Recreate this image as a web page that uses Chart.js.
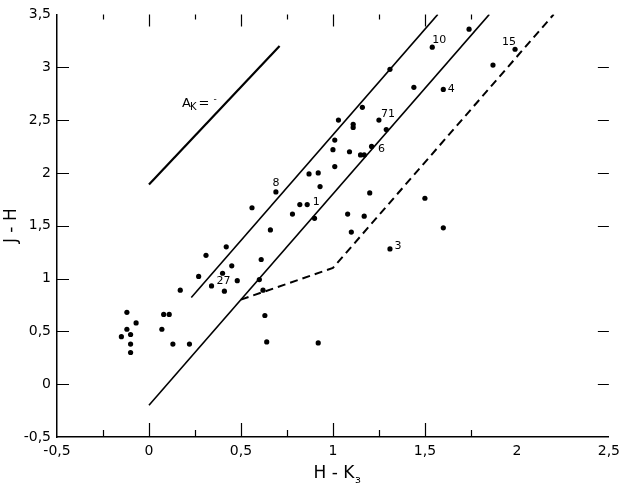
<!DOCTYPE html>
<html>
<head>
<meta charset="utf-8">
<script src="https://cdn.jsdelivr.net/npm/chart.js@4.4.0/dist/chart.umd.min.js"></script>
<style>
  html, body { margin: 0; padding: 0; background: #fff; }
  #wrap { width: 626px; height: 487px; }
</style>
</head>
<body>
<div id="wrap"><canvas id="colourChart"></canvas></div>
<script>
// stars: H-K and J-H
const starX = [-0.15, -0.12, -0.12, -0.10, -0.07, -0.10, -0.10, 0.07, 0.08, 0.11,
  0.13, 0.17, 0.22, 0.27, 0.31, 0.34, 0.40, 0.42, 0.41, 0.45,
  0.48, 0.61, 0.60, 0.62, 0.63, 0.64, 0.92, 0.56, 0.69, 0.66,
  0.87, 0.92, 1.01, 0.93, 0.82, 0.86, 0.78, 0.90, 1.20, 1.08,
  1.17, 1.10, 1.74, 1.54, 1.99, 1.87, 1.31, 1.44, 1.60, 1.16,
  1.03, 1.11, 1.11, 1.25, 1.29, 1.01, 1.00, 1.09, 1.21, 1.15,
  1.17, 1.50, 1.60, 1.31];
const starY = [0.45, 0.68, 0.52, 0.47, 0.58, 0.38, 0.30, 0.52, 0.66, 0.66,
  0.38, 0.89, 0.38, 1.02, 1.22, 0.93, 1.05, 1.30, 0.88, 1.12,
  0.98, 1.18, 0.99, 0.89, 0.65, 0.40, 0.39, 1.67, 1.82, 1.46,
  1.99, 2.00, 2.06, 1.87, 1.70, 1.70, 1.61, 1.57, 1.81, 1.61,
  1.59, 1.44, 3.36, 3.19, 3.17, 3.02, 2.98, 2.81, 2.79, 2.62,
  2.50, 2.46, 2.43, 2.50, 2.41, 2.31, 2.22, 2.20, 2.25, 2.17,
  2.17, 1.76, 1.48, 1.28];

// numbered stars
const noteText = ['27', '8', '1', '10', '15', '4', '71', '6', '3'];
const noteX = [0.40, 0.69, 0.86, 1.54, 1.99, 1.60, 1.25, 1.21, 1.31];
const noteY = [1.05, 1.82, 1.70, 3.19, 3.17, 2.79, 2.50, 2.25, 1.28];

// reddening vector, A_K = 1
const vectorX = [0, 0.71];
const vectorY = [1.89, 3.2];
// reddened main sequence borders
const upperX = [0.23, 1.57];
const upperY = [0.82, 3.5];
const lowerX = [0, 1.85];
const lowerY = [-0.2, 3.5];
// dashed border
const dashX = [0.5, 1.0, 2.2];
const dashY = [0.8, 1.1, 3.5];

const vectorLabelX = 0.18;
const vectorLabelY = 2.67;

const xTicks = [-0.5, 0, 0.5, 1, 1.5, 2, 2.5];
const yTicks = [-0.5, 0, 0.5, 1, 1.5, 2, 2.5, 3, 3.5];
const topMarks = [-0.25, 0, 0.25, 0.5, 0.75, 1, 1.25, 1.5, 1.75];
const bottomMarks = [-0.25, 0, 0.25, 0.5, 0.75, 1, 1.25, 1.5, 1.75];
const leftMarks = [0, 0.5, 1, 1.5, 2, 2.5, 3];
const rightMarks = [0, 0.5, 1.5, 2, 2.5, 3];

const pts = (xs, ys) => xs.map((v, i) => ({x: v, y: ys[i]}));
const comma = v => String(v).replace('.', ',');
const FONT = '"DejaVu Sans", sans-serif';

const noteOffset = [[1, 8], [0, -9], [9, -2], [7, -7], [-6, -7], [8, 0], [9, -6], [10, 3], [8, -3]];

const extras = {
    id: 'extras',
    afterDraw(chart) {
        const {ctx, chartArea: a, scales: {x, y}} = chart;
        ctx.save();
        // inward tick marks
        ctx.strokeStyle = '#000';
        ctx.lineWidth = 1.2;
        ctx.beginPath();
        topMarks.forEach(v => {
            const px = Math.round(x.getPixelForValue(v)) + 0.5;
            ctx.moveTo(px, a.top);
            ctx.lineTo(px, a.top + (v % 0.5 === 0 ? 12 : 5));
        });
        bottomMarks.forEach(v => {
            const px = Math.round(x.getPixelForValue(v)) + 0.5;
            ctx.moveTo(px, a.bottom);
            ctx.lineTo(px, a.bottom - (v % 0.5 === 0 ? 14 : 7));
        });
        leftMarks.forEach(v => {
            const py = Math.round(y.getPixelForValue(v)) + 0.5;
            ctx.moveTo(a.left, py);
            ctx.lineTo(a.left + 12, py);
        });
        rightMarks.forEach(v => {
            const py = Math.round(y.getPixelForValue(v)) + 0.5;
            ctx.moveTo(a.right, py);
            ctx.lineTo(a.right - 11, py);
        });
        ctx.stroke();

        // star numbers
        ctx.fillStyle = '#000';
        ctx.font = '11px ' + FONT;
        ctx.textAlign = 'center';
        ctx.textBaseline = 'middle';
        noteText.forEach((t, i) => {
            ctx.fillText(t, x.getPixelForValue(noteX[i]) + noteOffset[i][0],
                y.getPixelForValue(noteY[i]) + noteOffset[i][1]);
        });

        // A_K label
        ctx.textAlign = 'left';
        ctx.textBaseline = 'alphabetic';
        let lx = x.getPixelForValue(vectorLabelX);
        const ly = y.getPixelForValue(vectorLabelY) + 5;
        ctx.font = '13px ' + FONT;
        ctx.fillText('A', lx, ly);
        lx += ctx.measureText('A').width - 1;
        ctx.font = '10px ' + FONT;
        ctx.fillText('K', lx, ly + 3);
        lx += ctx.measureText('K').width + 2;
        ctx.font = '13px ' + FONT;
        ctx.fillText('= ', lx, ly);
        lx += ctx.measureText('= ').width;
        ctx.font = '9px ' + FONT;
        ctx.fillText('-', lx, ly - 5);

        // x axis title with subscript
        const main = 'H - K', sub = 'з';
        ctx.font = '17px ' + FONT;
        const w1 = ctx.measureText(main).width;
        ctx.font = '11px ' + FONT;
        const w2 = ctx.measureText(sub).width;
        const tx = (a.left + a.right) / 2 - (w1 + w2) / 2 + 4;
        const ty = 478;
        ctx.font = '17px ' + FONT;
        ctx.fillText(main, tx, ty);
        ctx.font = '11px ' + FONT;
        ctx.fillText(sub, tx + w1 + 0.5, ty + 5);
        ctx.restore();
    }
};

const ctx = document.getElementById('colourChart').getContext('2d');

const line = (xs, ys, width, dash) => ({
    data: pts(xs, ys),
    showLine: true,
    borderColor: '#000',
    borderWidth: width,
    borderDash: dash || [],
    pointRadius: 0,
    fill: false
});

const colourChart = new Chart(ctx, {
    type: 'scatter',
    data: {
        datasets: [
            {
                data: pts(starX, starY),
                backgroundColor: '#000',
                borderWidth: 0,
                pointRadius: 2.6
            },
            line(vectorX, vectorY, 2.2),
            line(upperX, upperY, 1.6),
            line(lowerX, lowerY, 1.6),
            line(dashX, dashY, 2, [8, 5])
        ]
    },
    options: {
        responsive: true,
        maintainAspectRatio: false,
        animation: false,
        layout: {
            padding: {top: 10, right: 16, left: 0, bottom: 0}
        },
        scales: {
            x: {
                type: 'linear',
                min: -0.5,
                max: 2.5,
                afterBuildTicks: s => { s.ticks = xTicks.map(v => ({value: v})); },
                afterFit: s => { s.height = 50; },
                grid: {display: false, drawTicks: false},
                border: {display: true, color: '#000', width: 1.5},
                ticks: {
                    color: '#000',
                    padding: 6,
                    font: {family: FONT, size: 14},
                    callback: v => comma(v)
                }
            },
            y: {
                type: 'linear',
                min: -0.5,
                max: 3.5,
                afterBuildTicks: s => { s.ticks = yTicks.map(v => ({value: v})); },
                afterFit: s => { s.width = 57; },
                grid: {display: false, drawTicks: false},
                border: {display: true, color: '#000', width: 1.5},
                title: {
                    display: true,
                    text: 'J - H',
                    color: '#000',
                    padding: 1,
                    font: {family: FONT, size: 17}
                },
                ticks: {
                    color: '#000',
                    padding: 6,
                    font: {family: FONT, size: 14},
                    callback: v => comma(v)
                }
            }
        },
        plugins: {
            legend: {display: false},
            tooltip: {enabled: false}
        }
    },
    plugins: [extras]
});
</script>
</body>
</html>
